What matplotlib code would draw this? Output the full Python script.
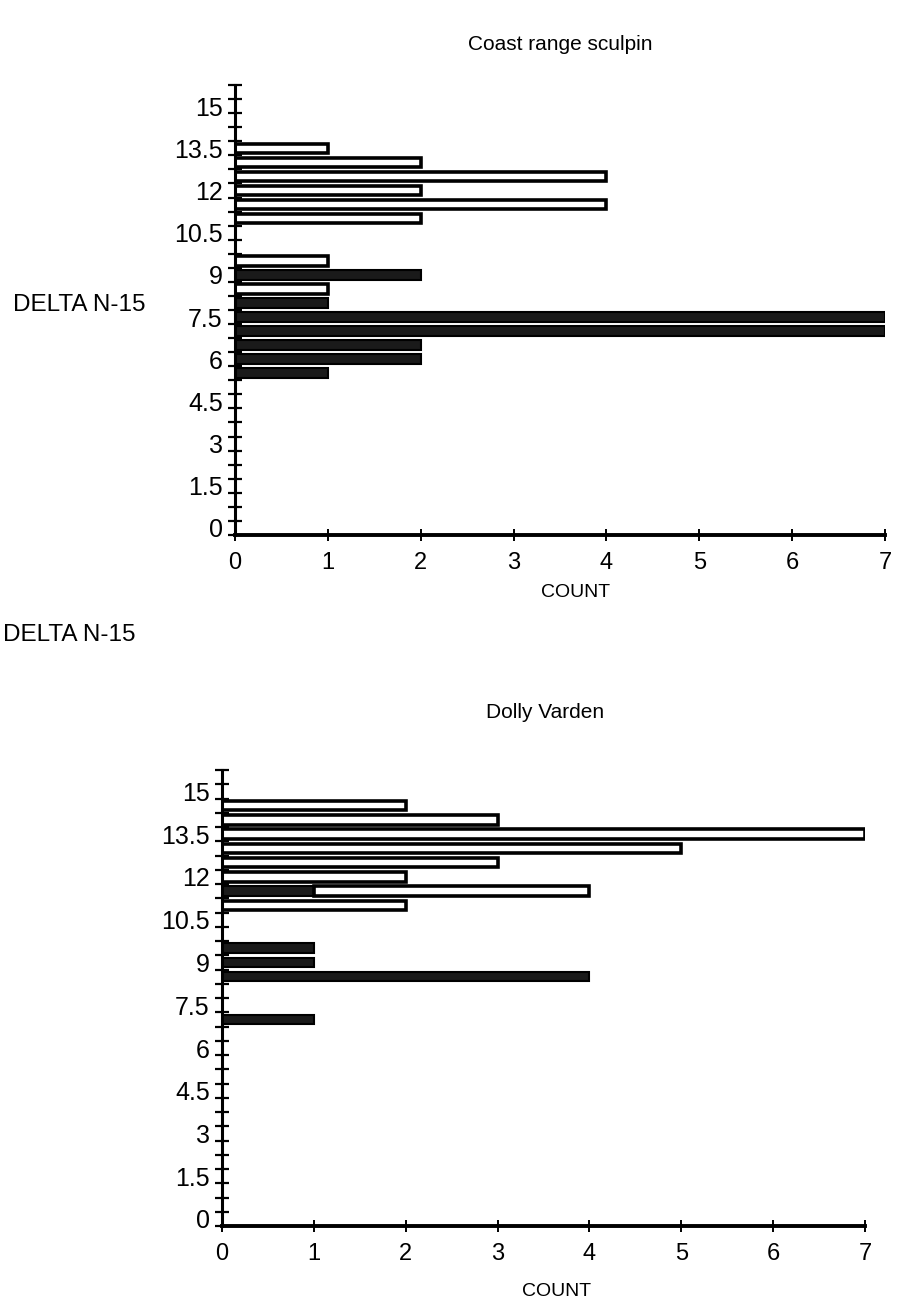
import matplotlib
matplotlib.use("Agg")
import matplotlib.pyplot as plt
import matplotlib.transforms as mtransforms
import numpy as np

plt.rcParams['font.family'] = ['Liberation Sans', 'DejaVu Sans']

# ---- data ----
# lower edges of 0.5-wide DELTA N-15 bins
bin_edges = [5.5, 6.0, 6.5, 7.0, 7.5, 8.0, 8.5, 9.0, 9.5, 10.0, 10.5, 11.0,
             11.5, 12.0, 12.5, 13.0, 13.5, 14.0, 14.5]

sculpin_dark = [1, 2, 2, 7, 7, 1, 0, 2, 0, 0, 0, 0, 0, 0, 0, 0, 0, 0, 0]
sculpin_white = [0, 0, 0, 0, 0, 0, 1, 0, 1, 0, 0, 2, 4, 2, 4, 2, 1, 0, 0]

dolly_dark = [0, 0, 0, 1, 0, 0, 4, 1, 1, 0, 0, 0, 1, 0, 0, 0, 0, 0, 0]
dolly_white = [0, 0, 0, 0, 0, 0, 0, 0, 0, 0, 0, 2, 3, 2, 3, 5, 7, 3, 2]

titles = ["Coast range sculpin", "Dolly Varden"]
ytick_vals = [0, 1.5, 3, 4.5, 6, 7.5, 9, 10.5, 12, 13.5, 15]
ytick_labels = ["0", "1.5", "3", "4.5", "6", "7.5", "9", "10.5", "12", "13.5", "15"]
xtick_vals = [0, 1, 2, 3, 4, 5, 6, 7]
ylabel = "DELTA N-15"
xlabel = "COUNT"

W, H = 897, 1312
fig = plt.figure(figsize=(W / 100, H / 100), dpi=100)

# axes rectangles in pixel terms (left, right, y0 px, y16 px)
boxes = [(235, 885, 535, 85), (222, 865, 1226, 770)]
ylabel_pos = [(79, 305), (69, 635)]
xlabel_pos = [(576, 593), (557, 1292)]
title_pos = [(560, 45), (545, 712)]

series = [(sculpin_dark, sculpin_white), (dolly_dark, dolly_white)]

dark = '#1a1a1a'
bar_h = 0.34

for i, (l, r, y0, y16) in enumerate(boxes):
    ax = fig.add_axes([l / W, (H - y0) / H, (r - l) / W, (y0 - y16) / H])
    d, w = series[i]
    centers = np.array(bin_edges) + 0.25
    d = np.array(d)
    w = np.array(w)
    ax.barh(centers, d, height=bar_h, color=dark, edgecolor='black',
            linewidth=1.5, zorder=2)
    ax.barh(centers, w, left=d, height=bar_h, color='white',
            edgecolor='black', linewidth=2.6, zorder=2)
    # hide zero-width bars' edges
    for p in ax.patches:
        if p.get_width() == 0:
            p.set_visible(False)

    ax.set_xlim(0, 7)
    ax.set_ylim(0, 16)
    for s in ['top', 'right']:
        ax.spines[s].set_visible(False)
    ax.spines['left'].set_linewidth(2.2)
    ax.spines['bottom'].set_linewidth(2.8)

    ax.set_yticks(ytick_vals)
    ax.set_yticklabels(ytick_labels)
    ax.set_yticks(np.arange(0, 16.01, 0.5), minor=True)
    ax.set_xticks(xtick_vals)
    ax.set_xticklabels([str(v) for v in xtick_vals])

    ax.tick_params(axis='y', which='both', direction='inout', length=9.5,
                   width=1.6, labelsize=18, pad=4)
    ax.tick_params(axis='x', which='major', direction='inout', length=9,
                   width=1.4, labelsize=17, pad=8)

    # shift y tick labels up slightly, as in the original
    offset = mtransforms.ScaledTranslation(0, 0.07, fig.dpi_scale_trans)
    for lab in ax.get_yticklabels():
        lab.set_transform(lab.get_transform() + offset)

    tx, ty = title_pos[i]
    fig.text(tx / W, 1 - ty / H, titles[i], ha='center', va='center',
             fontsize=15)
    lx, ly = ylabel_pos[i]
    fig.text(lx / W, 1 - ly / H, ylabel, ha='center', va='center',
             fontsize=17.5)
    cx, cy = xlabel_pos[i]
    fig.text(cx / W, 1 - cy / H, xlabel, ha='center', va='center',
             fontsize=14)

fig.savefig("out.png", dpi=100)
